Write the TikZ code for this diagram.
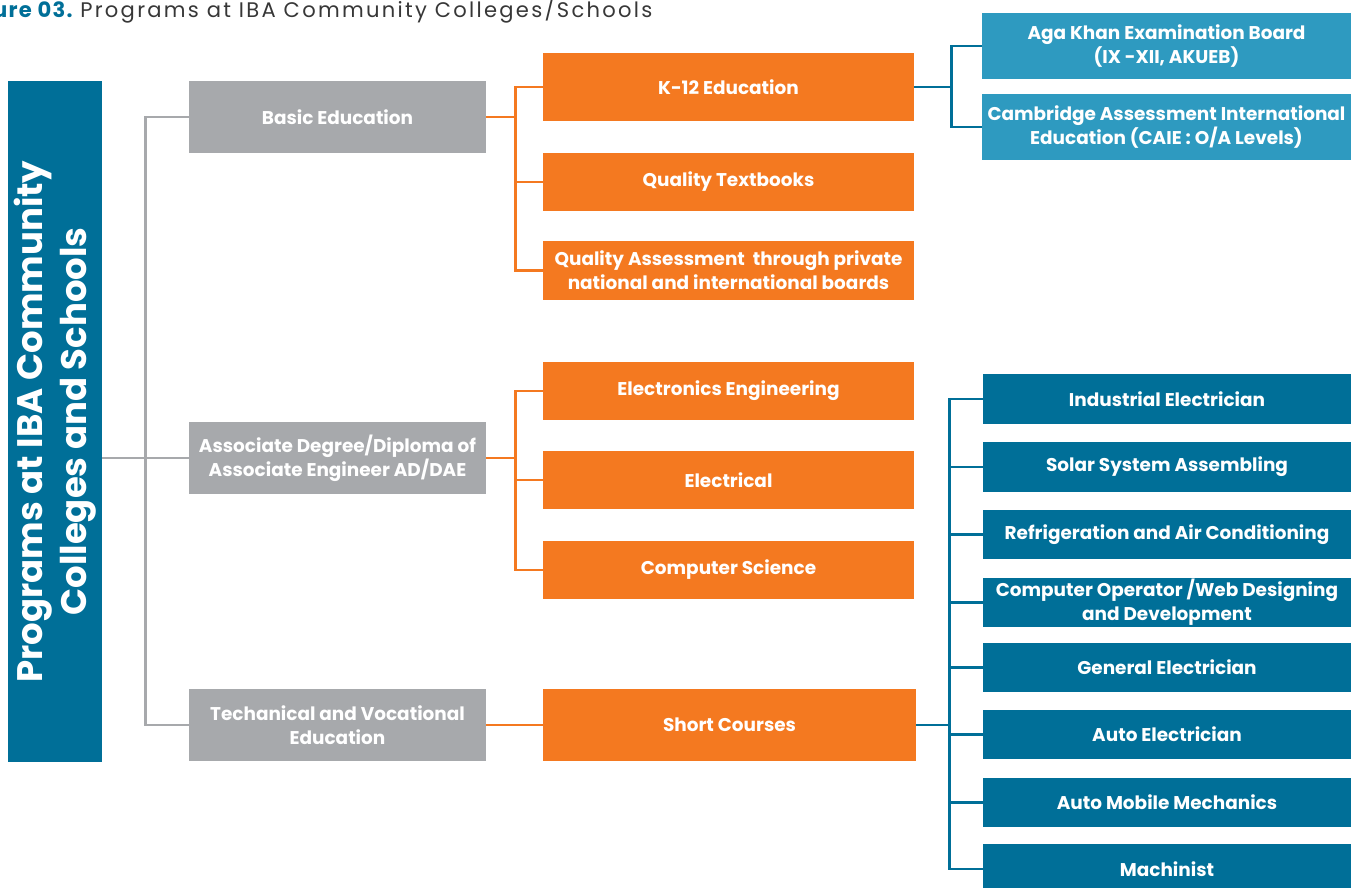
\documentclass[tikz,border=0pt]{standalone}
\usepackage{fontspec}
\setmainfont{Poppins}
\usepackage{xcolor}
\usetikzlibrary{positioning}

\definecolor{ibablue}{RGB}{0,111,152}
\definecolor{ibasky}{RGB}{46,154,192}
\definecolor{ibaorange}{RGB}{244,121,32}
\definecolor{ibagray}{RGB}{167,169,172}
\definecolor{titlegray}{RGB}{55,55,55}

\begin{document}
\begin{tikzpicture}[x=0.02cm, y=-0.02cm,
    box/.style={rectangle, inner sep=0pt, align=center, text=white,
      font=\fontsize{10.5}{13.5}\selectfont\bfseries},
    graybox/.style={box, fill=ibagray, minimum width=5.94cm, minimum height=1.44cm},
    orangebox/.style={box, fill=ibaorange, minimum width=7.42cm, minimum height=1.17cm},
    skybox/.style={box, fill=ibasky, minimum width=7.38cm, minimum height=1.32cm},
    bluebox/.style={box, fill=ibablue, minimum width=7.36cm, minimum height=1.0cm},
    grayline/.style={ibagray, line width=1.4pt},
    orangeline/.style={ibaorange, line width=1.4pt},
    blueline/.style={ibablue, line width=1.4pt}]
  \useasboundingbox (0,0) rectangle (1353,888);

  % ── Caption ──
  \node[anchor=base east, inner sep=0pt, text=ibablue,
    font=\fontsize{12}{14}\selectfont\bfseries\addfontfeature{LetterSpace=6}] (figlabel) at (73,18) {Figure 03.};
  \node[anchor=base west, inner sep=0pt, text=titlegray,
    font=\fontsize{12}{14}\selectfont\addfontfeature{LetterSpace=10.8}] (title) at (80,18)
    {Programs at IBA Community Colleges/Schools};

  % ── Root ──
  \node[box, fill=ibablue, minimum width=1.88cm, minimum height=13.62cm] (root) at (55,421.5) {};
  \node[rotate=90, text=white, align=center, inner sep=0pt,
    font=\fontsize{20.2}{25}\selectfont\bfseries] (rootlabel) at (root.center)
    {Programs at IBA Community\\Colleges and Schools};

  % ── Program areas ──
  \node[graybox] (basic) at (337.5,117) {Basic Education};
  \node[graybox] (assoc) at (337.5,458) {Associate Degree/Diploma of\\Associate Engineer AD/DAE};
  \node[graybox] (tech)  at (337.5,725) {Techanical and Vocational\\Education};

  \draw[grayline] (basic.west) -- ++(-43,0) |- (tech.west);
  \draw[grayline] (root.east |- assoc.west) -- (assoc.west);

  % ── Basic education ──
  \node[orangebox, minimum height=1.36cm] (k12) at (728.5,87) {K-12 Education};
  \node[orangebox] (qtext)   at (728.5,182)   {Quality Textbooks};
  \node[orangebox] (qassess) at (728.5,270.5) {Quality Assessment~ through private\\national and international boards};

  \draw[orangeline] (basic.east) -- ++(30,0);
  \draw[orangeline] (k12.west) -- ++(-27,0) |- (qassess.west);
  \draw[orangeline] (qtext.west) -- ++(-27,0);

  \node[skybox] (aga)  at (1166.5,46)  {Aga Khan Examination Board\\(IX -XII, AKUEB)};
  \node[skybox] (caie) at (1166.5,127) {Cambridge Assessment International\\Education (CAIE : O/A Levels)};

  \draw[blueline] (k12.east) -- ++(38,0);
  \draw[blueline] (aga.west) -- ++(-30,0) |- (caie.west);

  % ── Associate degree ──
  \node[orangebox] (elec)  at (728.5,391) {Electronics Engineering};
  \node[orangebox] (elcl)  at (728.5,480) {Electrical};
  \node[orangebox] (comp)  at (728.5,570) {Computer Science};

  \draw[orangeline] (assoc.east) -- ++(30,0);
  \draw[orangeline] (elec.west) -- ++(-27,0) |- (comp.west);
  \draw[orangeline] (elcl.west) -- ++(-27,0);

  % ── Technical and vocational ──
  \node[orangebox, minimum width=7.46cm, minimum height=1.44cm] (short) at (729.5,725) {Short Courses};
  \draw[orangeline] (tech.east) -- (short.west);

  \foreach \i/\yc/\txt in {
      1/399/{Industrial Electrician},
      2/467/{Solar System Assembling},
      3/534.5/{Refrigeration and Air Conditioning},
      4/602.5/{Computer Operator /Web Designing\\and Development},
      5/667.5/{General Electrician},
      6/734.5/{Auto Electrician},
      7/802.5/{Auto Mobile Mechanics},
      8/869/{Machinist}} {
    \node[bluebox] (c\i) at (1167,\yc) {\txt};
  }

  \draw[blueline] (short.east) -- ++(34,0);
  \draw[blueline] (c1.west) -- ++(-33,0) |- (c8.west);
  \foreach \i in {2,...,7} {
    \draw[blueline] (c\i.west) -- ++(-33,0);
  }
\end{tikzpicture}
\end{document}
